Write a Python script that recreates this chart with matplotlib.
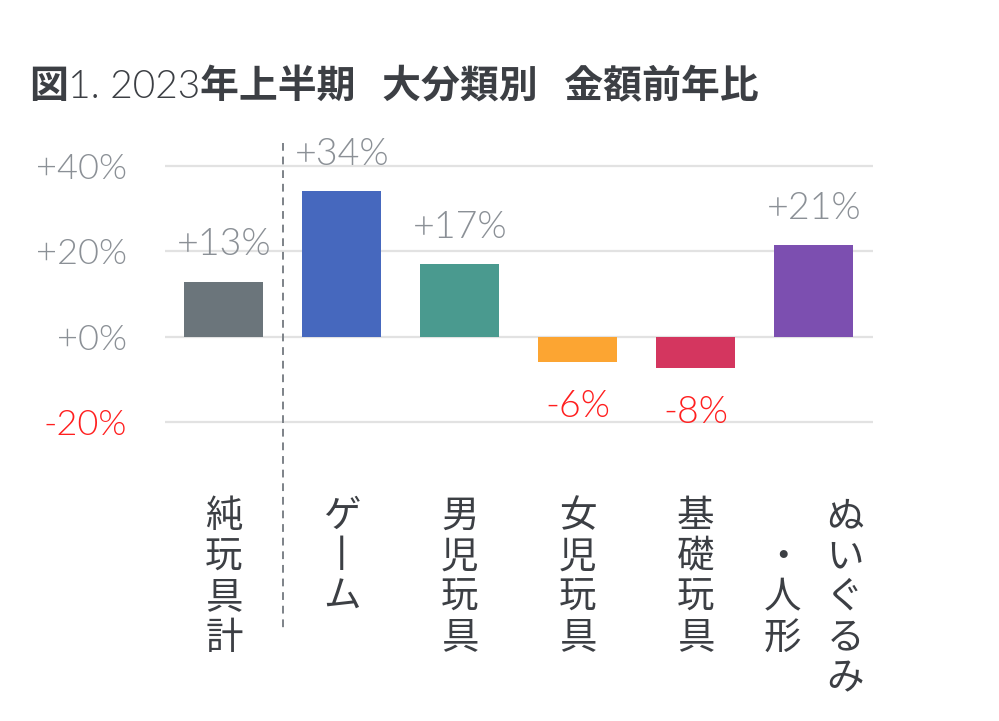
import matplotlib
matplotlib.use("Agg")
import matplotlib.pyplot as plt
import matplotlib.transforms as mtransforms

categories = ["純玩具計", "ゲーム", "男児玩具", "女児玩具", "基礎玩具", "ぬいぐるみ・人形"]
values = [12.9, 34.1, 17.0, -6.0, -7.4, 21.4]
value_labels = ["+13%", "+34%", "+17%", "-6%", "-8%", "+21%"]
bar_colors = ["#6b757b", "#4668be", "#4a9a8f", "#fca532", "#d4365f", "#7c4fb0"]
yticks = [-20, 0, 20, 40]
ytick_labels = ["-20%", "+0%", "+20%", "+40%"]

GRAY = "#8b9096"
RED = "#ff1f1f"
DARK = "#3c3f44"
CJK = "Noto Sans CJK JP"
LAT = "Lato"
LIGHT = 300

fig = plt.figure(figsize=(9.99, 7.21), dpi=100)
ax = fig.add_axes([0.165, 0.3847, 0.7087, 0.4151])

x = list(range(len(categories)))
ax.bar(x, values, width=0.67, color=bar_colors, zorder=3)

ax.set_xlim(-0.5, 5.5)
ax.set_ylim(-25, 45)
ax.set_yticks(yticks)
ax.set_yticklabels(ytick_labels, family=LAT, fontweight=LIGHT, fontsize=26)
for lab, t in zip(ax.get_yticklabels(), yticks):
    lab.set_color(RED if t < 0 else GRAY)
ax.tick_params(axis="y", length=0, pad=27)
ax.set_xticks([])
ax.grid(axis="y", color="#e2e2e2", linewidth=1.6)
ax.set_axisbelow(True)
for s in ax.spines.values():
    s.set_visible(False)

# 数値ラベル
for xi, v, lab in zip(x, values, value_labels):
    off = 19 if v >= 0 else -39
    ax.annotate(lab, (xi, v), xytext=(0, off), textcoords="offset points",
                ha="center", va="baseline", family=LAT, fontweight=LIGHT,
                fontsize=27, color=GRAY if v >= 0 else RED)

# 縦書きのカテゴリ名
trans = mtransforms.blended_transform_factory(ax.transData, fig.transFigure)


def tate(s):
    return "\n".join("丨" if c == "ー" else c for c in s)


label_top = 1 - 497 / 721
for xi, cat in zip(x, categories):
    cols = [cat[i:i + 5] for i in range(0, len(cat), 5)]
    n = len(cols)
    for j, col in enumerate(cols):
        pad = (len(cols[0]) - len(col)) // 2
        txt = "\n".join(["　"] * pad + [tate(col)]) if pad else tate(col)
        dx = ((n - 1) / 2 - j) * 45
        off = mtransforms.offset_copy(trans, fig=fig, x=dx, y=0, units="points")
        fig.text(xi, label_top, txt, transform=off, ha="center", va="top",
                 family=CJK, fontsize=27, color=DARK, linespacing=1.05)

# 区切りの点線
ax.plot([0.5, 0.5], [1 - 143 / 721, 1 - 632 / 721], transform=trans,
        color="#7d8288", linestyle=(0, (4, 3)), linewidth=1.4, clip_on=False)

# タイトル（和文は太字、数字は細字）
title_parts = [("図", CJK, "bold"), ("1. 2023", LAT, LIGHT),
               ("年上半期   大分類別   金額前年比", CJK, "bold")]
tx = 0.029
for s, fam, w in title_parts:
    t = fig.text(tx, 1 - 98 / 721, s, family=fam, fontweight=w, fontsize=28,
                 color=DARK, ha="left", va="baseline")
    fig.canvas.draw()
    bb = t.get_window_extent(fig.canvas.get_renderer())
    tx = bb.x1 / fig.bbox.width

fig.savefig("out.png", dpi=100)
